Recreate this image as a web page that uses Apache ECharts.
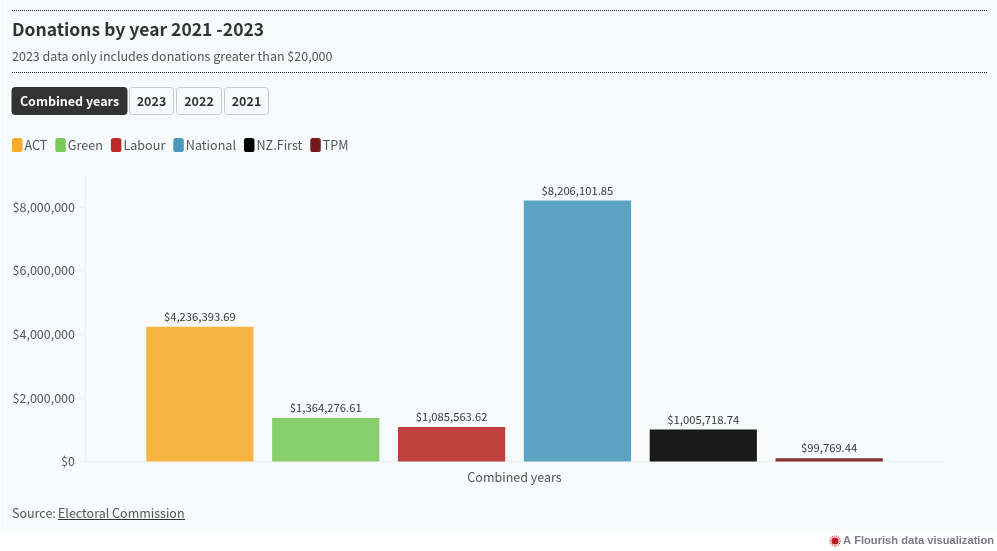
<!DOCTYPE html>
<html><head><meta charset="utf-8">
<style>html,body{margin:0;padding:0;background:#fff}#c{width:997px;height:551px}</style>
<script src="https://cdn.jsdelivr.net/npm/echarts@6/dist/echarts.min.js"></script>
</head><body><div id="c"></div>
<script>
const categories = ['Combined years'];
const seriesNames = ['ACT','Green','Labour','National','NZ.First','TPM'];
const seriesValues = [4236393.69,1364276.61,1085563.62,8206101.85,1005718.74,99769.44];
const seriesColors = ['#f7ac2e','#7aca5a','#b92b2b','#4b9abb','#000000','#751a1a'];
const yTicks = [0,2000000,4000000,6000000,8000000];
const buttons = ['Combined years','2023','2022','2021'];
const FONT = '"Noto Sans CJK SC"';
const BG = '#f7fbfc';
const money2 = v => '$' + v.toLocaleString('en-US',{minimumFractionDigits:2,maximumFractionDigits:2});
const money0 = v => '$' + v.toLocaleString('en-US');

const btnGeom = [[12,115],[129,45],[176,46],[224,45]];
const graphic = [
  {type:'rect',z:-1,shape:{x:1,y:0,width:996,height:533},style:{fill:BG}},
  {type:'line',shape:{x1:12,y1:10.5,x2:988,y2:10.5},style:{stroke:'#222',lineWidth:1,lineDash:[1,1]}},
  {type:'line',shape:{x1:12,y1:72.5,x2:988,y2:72.5},style:{stroke:'#222',lineWidth:1,lineDash:[1,1]}},
  {type:'text',x:12,y:29.5,style:{text:'Donations by year 2021 -2023',font:'bold 17.5px '+FONT,fill:'#333',verticalAlign:'middle'}},
  {type:'text',x:12,y:56.5,style:{text:'2023 data only includes donations greater than $20,000',font:'12.5px '+FONT,fill:'#555',verticalAlign:'middle'}},
  {type:'text',x:12,y:513,style:{text:'Source:',font:'12.5px '+FONT,fill:'#555',verticalAlign:'middle'}},
  {type:'text',x:58,y:513,style:{text:'Electoral Commission',font:'12.5px '+FONT,fill:'#555',verticalAlign:'middle'}},
  {type:'line',shape:{x1:58,y1:519.5,x2:185,y2:519.5},style:{stroke:'#333',lineWidth:1}},
  {type:'circle',shape:{cx:835,cy:541,r:3.6},style:{fill:'#c0161c'}},
  {type:'circle',shape:{cx:835,cy:541,r:5},style:{fill:'none',stroke:'#d8454a',lineWidth:1.4,lineDash:[1,1]}},
  {type:'text',x:843,y:541,style:{text:'A Flourish data visualization',font:'bold 11.15px "Liberation Sans"',fill:'#7b7b85',verticalAlign:'middle'}}
];
buttons.forEach((t,i)=>{
  const [x,w]=btnGeom[i];
  graphic.push({type:'rect',shape:{x:x+(i?.5:0),y:87.5,width:w-(i?1:0),height:27,r:3},
    style:{fill:i?BG:'#333',stroke:i?'#c6ccd0':'#333',lineWidth:1}});
  graphic.push({type:'text',x:x+w/2,y:101,style:{text:t,font:'bold 12.5px '+FONT,fill:i?'#333':'#fff',align:'center',verticalAlign:'middle'}});
});

const chart = echarts.init(document.getElementById('c'),null,{renderer:'canvas',width:997,height:551});
chart.setOption({
  animation:false,
  backgroundColor:'#fff',
  textStyle:{fontFamily:FONT},
  graphic:{elements:graphic},
  legend:{left:12,top:138,padding:0,itemWidth:10.5,itemHeight:14,itemGap:8,icon:'roundRect',
    data:seriesNames,selectedMode:false,
    itemStyle:{opacity:1},
    textStyle:{fontFamily:FONT,fontSize:12.6,color:'#555',padding:[0,0,0,-3]}},
  grid:{left:85,right:53,top:177,bottom:89.5,containLabel:false},
  xAxis:{type:'category',data:categories,
    axisLine:{lineStyle:{color:'#eef1f3',width:1}},axisTick:{show:false},
    axisLabel:{color:'#555',fontSize:12.5,fontFamily:FONT,margin:9}},
  yAxis:{type:'value',min:0,max:8945000,
    splitLine:{show:false},
    axisLine:{show:true,lineStyle:{color:'#eef1f3',width:1}},
    axisTick:{show:true,length:5,lineStyle:{color:'#eef1f3'},customValues:yTicks},
    axisLabel:{color:'#555',fontSize:12.5,fontFamily:FONT,margin:10,customValues:yTicks,formatter:money0}},
  series:seriesNames.map((n,i)=>({
    name:n,type:'bar',data:[seriesValues[i]],barWidth:107.2,barGap:'17.4%',
    itemStyle:{color:seriesColors[i],opacity:0.9},
    label:{show:true,position:'top',distance:4.5,formatter:p=>money2(p.value),color:'#222',fontSize:11.25,fontFamily:FONT}
  }))
});
</script></body></html>
